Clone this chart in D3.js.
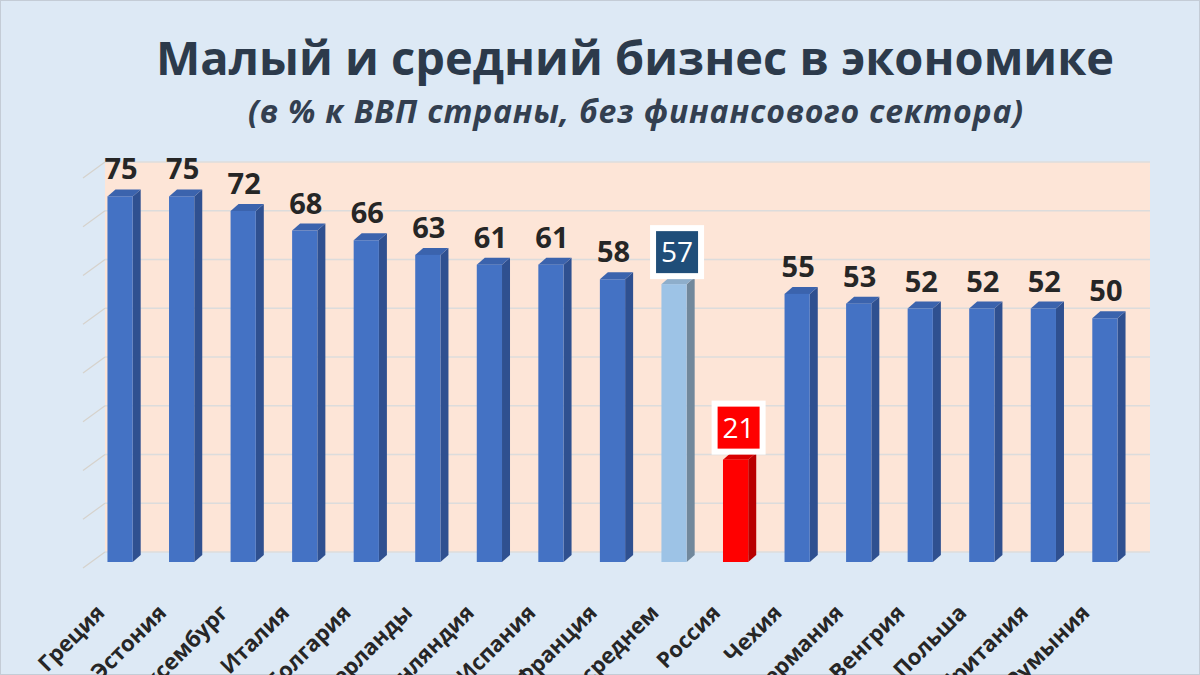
<!DOCTYPE html>
<html>
<head>
<meta charset="utf-8">
<script src="https://cdn.jsdelivr.net/npm/d3@7.9.0/dist/d3.min.js"></script>
<style>
  body { margin: 0; background: #dde9f5; }
  svg { display: block; font-family: 'Open Sans', sans-serif; }
</style>
</head>
<body>
<svg id="chart" width="1200" height="675"></svg>
<script>
// DATA
const countries = ['Греция', 'Эстония', 'Люксембург', 'Италия', 'Болгария', 'Нидерланды',
  'Финляндия', 'Испания', 'Франция', 'ЕС в среднем', 'Россия', 'Чехия', 'Германия',
  'Венгрия', 'Польша', 'Великобритания', 'Румыния'];
const shares = [75, 75, 72, 68, 66, 63, 61, 61, 58, 57, 21, 55, 53, 52, 52, 52, 50];
const yTicks = [0, 10, 20, 30, 40, 50, 60, 70, 80];
const highlight = { 'ЕС в среднем': 'avg', 'Россия': 'ru' };

const svg = d3.select('#chart');
const W = 1200, H = 675;

// frame
svg.append('rect').attr('x', 0.5).attr('y', 0.5).attr('width', W - 1).attr('height', H - 1)
  .attr('fill', '#dde9f5').attr('stroke', '#c4ccd6');

// scales
const x = d3.scaleBand().domain(countries).range([89, 1136]).paddingInner(0.59).paddingOuter(0.3);
const y = d3.scaleLinear().domain([0, 80]).range([562, 172]);
const depth = { dx: 8, dy: -7 };
const wallShift = -10;

// back wall
const wallL = 105, wallR = 1150;
svg.append('rect')
  .attr('x', wallL).attr('y', y(80) + wallShift)
  .attr('width', wallR - wallL).attr('height', y(0) - y(80))
  .attr('fill', '#fde5d7');

// gridlines (wall + side)
yTicks.forEach(t => {
  const yy = y(t) + wallShift;
  svg.append('line').attr('x1', wallL).attr('x2', wallR).attr('y1', yy).attr('y2', yy)
    .attr('stroke', '#dcdcdc').attr('stroke-width', 1.3);
  svg.append('line').attr('x1', 83).attr('x2', wallL).attr('y1', yy + 16).attr('y2', yy)
    .attr('stroke', '#d6d2cc').attr('stroke-width', 1.2);
});

// titles
svg.append('text').attr('x', 635).attr('y', 75).attr('text-anchor', 'middle')
  .attr('font-size', 47).attr('font-weight', 700).attr('fill', '#2c3a4b')
  .text('Малый и средний бизнес в экономике');
svg.append('text').attr('x', 636).attr('y', 123).attr('text-anchor', 'middle')
  .attr('font-size', 32).attr('font-weight', 700).attr('font-style', 'italic').attr('fill', '#333f50')
  .attr('letter-spacing', 0.8)
  .text('(в % к ВВП страны, без финансового сектора)');

const palette = {
  base: { front: '#4472c4', side: '#2f5090', top: '#3b63ad' },
  avg: { front: '#9dc3e6', side: '#71889c', top: '#8eaecb' },
  ru: { front: '#ff0000', side: '#b80000', top: '#d90000' }
};

const data = countries.map((c, i) => ({ name: c, value: shares[i], kind: highlight[c] || 'base' }));

const bars = svg.append('g').selectAll('g').data(data).join('g');

bars.each(function (d) {
  const g = d3.select(this);
  const c = palette[d.kind];
  const x0 = x(d.name), x1 = x0 + x.bandwidth();
  const yt = y(d.value), yb = y(0);
  // side
  g.append('path')
    .attr('d', `M${x1},${yt} L${x1 + depth.dx},${yt + depth.dy} L${x1 + depth.dx},${yb + depth.dy} L${x1},${yb} Z`)
    .attr('fill', c.side);
  // top
  g.append('path')
    .attr('d', `M${x0},${yt} L${x0 + depth.dx},${yt + depth.dy} L${x1 + depth.dx},${yt + depth.dy} L${x1},${yt} Z`)
    .attr('fill', c.top);
  // front
  g.append('rect').attr('x', x0).attr('y', yt).attr('width', x.bandwidth()).attr('height', yb - yt)
    .attr('fill', c.front);
});

// value labels
bars.each(function (d) {
  const g = d3.select(this);
  const cx = x(d.name) + x.bandwidth() / 2 + 3;
  if (d.kind === 'base') {
    g.append('text').attr('x', cx - 2).attr('y', y(d.value) - 17).attr('text-anchor', 'middle')
      .attr('font-size', 29).attr('font-weight', 700).attr('fill', '#262626')
      .text(d.value);
  } else {
    const boxFill = d.kind === 'avg' ? '#1f4e79' : '#ff0000';
    const top = y(d.value) - 56;
    g.append('rect').attr('x', cx - 24).attr('y', top).attr('width', 48).attr('height', 48)
      .attr('fill', boxFill).attr('stroke', '#ffffff').attr('stroke-width', 6);
    g.append('text').attr('x', cx).attr('y', top + 34).attr('text-anchor', 'middle')
      .attr('font-size', 28).attr('fill', '#ffffff')
      .text(d.value);
  }
});

// category labels
svg.append('g').selectAll('text').data(data).join('text')
  .attr('transform', d => `translate(${x(d.name) + x.bandwidth() / 2 - 14},${614}) rotate(-45)`)
  .attr('text-anchor', 'end')
  .attr('font-size', 22).attr('font-weight', 700).attr('fill', '#262626')
  .text(d => d.name);
</script>
</body>
</html>
